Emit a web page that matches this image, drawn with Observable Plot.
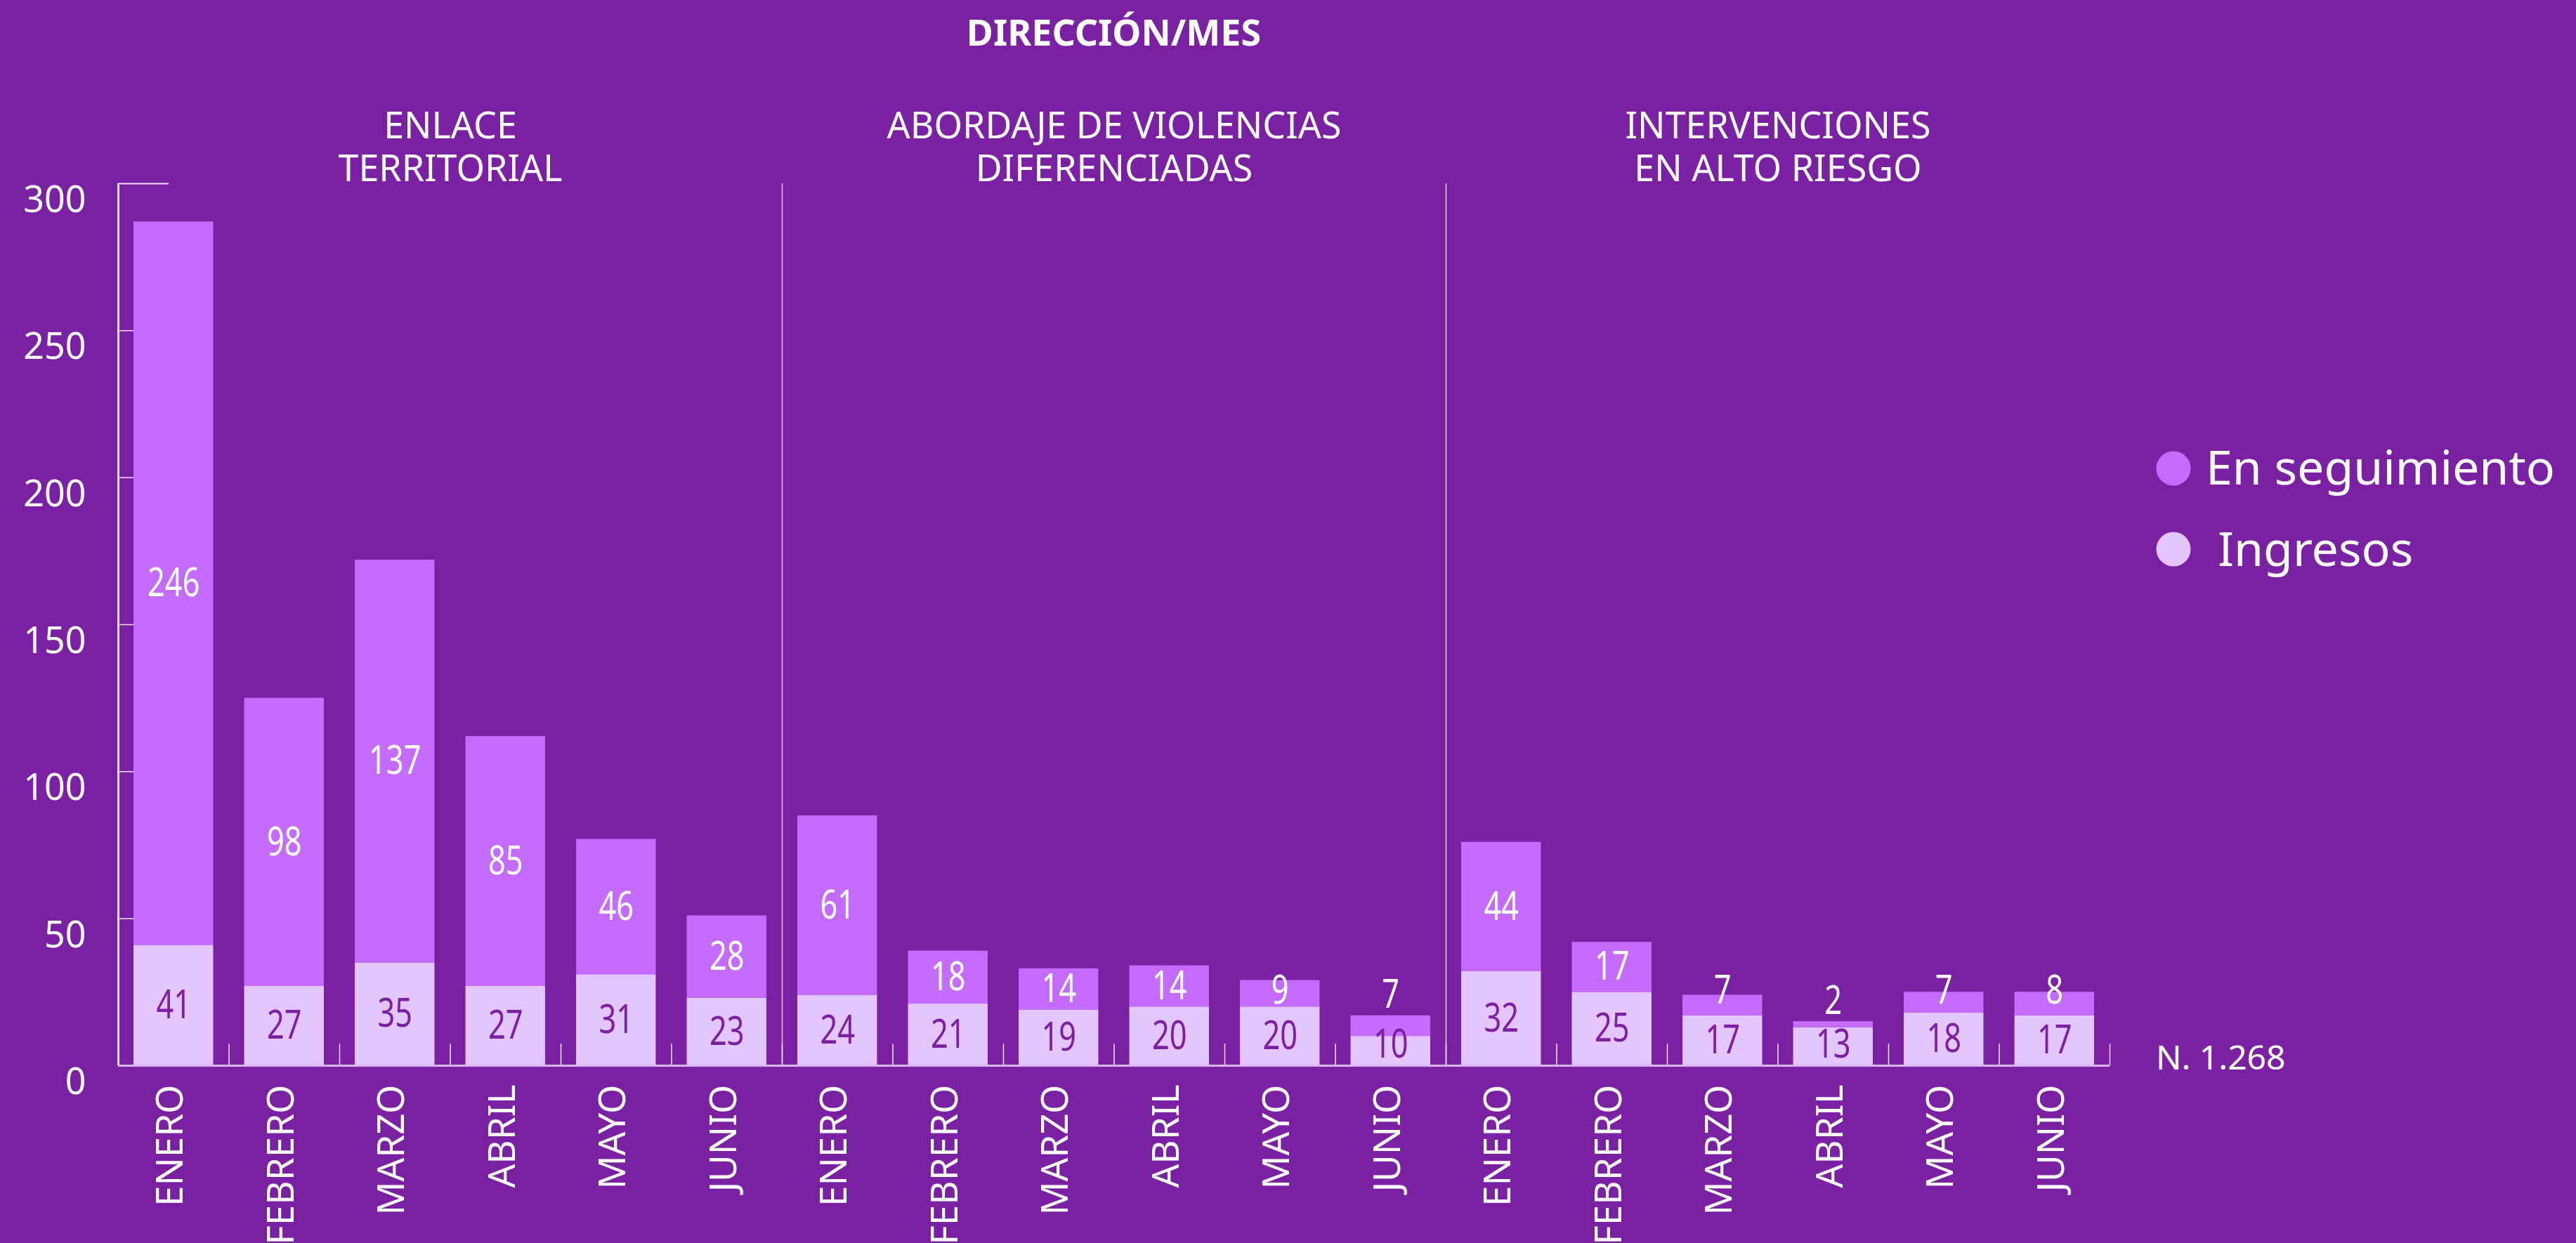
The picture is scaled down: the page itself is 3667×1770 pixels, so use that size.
<!DOCTYPE html>
<html>
<head>
<meta charset="utf-8">
<script src="https://cdn.jsdelivr.net/npm/d3@7"></script>
<script src="https://cdn.jsdelivr.net/npm/@observablehq/plot@0.6"></script>
<style>
  html, body { margin: 0; padding: 0; background: #7a20a2; }
  #wrap { position: relative; width: 3667px; height: 1770px; overflow: hidden; background: #7a20a2; }
  #wrap svg { position: absolute; left: 0; top: 0; }
</style>
</head>
<body>
<div id="wrap"></div>
<script>
// ---- Data ----
const groups = ["ENLACE\nTERRITORIAL", "ABORDAJE DE VIOLENCIAS\nDIFERENCIADAS", "INTERVENCIONES\nEN ALTO RIESGO"];
const months = ["ENERO", "FEBRERO", "MARZO", "ABRIL", "MAYO", "JUNIO"];
const series = ["Ingresos", "En seguimiento"];
const ingresosEnlace = [41, 27, 35, 27, 31, 23];
const seguimientoEnlace = [246, 98, 137, 85, 46, 28];
const ingresosAbordaje = [24, 21, 19, 20, 20, 10];
const seguimientoAbordaje = [61, 18, 14, 14, 9, 7];
const ingresosAltoRiesgo = [32, 25, 17, 13, 18, 17];
const seguimientoAltoRiesgo = [44, 17, 7, 2, 7, 8];
const yTicks = [0, 50, 100, 150, 200, 250, 300];
const titleText = "DIRECCIÓN/MES";
const legendLabels = ["En seguimiento", "Ingresos"];
const totalText = "N. 1.268";

// ---- Build table ----
const ingresosByGroup = [ingresosEnlace, ingresosAbordaje, ingresosAltoRiesgo];
const seguimientoByGroup = [seguimientoEnlace, seguimientoAbordaje, seguimientoAltoRiesgo];
const rows = [];
groups.forEach((g, gi) => {
  months.forEach((m, mi) => {
    rows.push({group: g, month: m, series: series[0], value: ingresosByGroup[gi][mi], base: 0});
  });
});
groups.forEach((g, gi) => {
  months.forEach((m, mi) => {
    rows.push({group: g, month: m, series: series[1], value: seguimientoByGroup[gi][mi], base: ingresosByGroup[gi][mi]});
  });
});
const ingRows = rows.filter(d => d.series === series[0]);
const segRows = rows.filter(d => d.series === series[1]);

// ---- Layout / style ----
const W = 3667, H = 1770;
const mL = 168, mR = 664, mT = 261, mB = 253;
const frameH = H - mT - mB;
const facetW = (W - mL - mR) / groups.length;
const step = facetW / months.length;
const bg = "#7a20a2", segColor = "#c36cff", ingColor = "#e4c6ff", pale = "#d9b6f5";
const baseFont = "'Noto Sans', sans-serif";

const chart = Plot.plot({
  width: W, height: H,
  marginLeft: mL, marginRight: mR, marginTop: mT, marginBottom: mB,
  style: {background: "transparent", color: "#fff", fontFamily: baseFont},
  fx: {domain: groups, padding: 0, label: null},
  x: {domain: months, paddingInner: 0.28, paddingOuter: 0.14, round: false, label: null},
  y: {domain: [0, 300], label: null},
  color: {domain: series, range: [ingColor, segColor]},
  marks: [
    // y axis ticks (inward)
    Plot.ruleY(yTicks.slice(1, -1), {y: d => d, fx: () => groups[0], insetRight: facetW - 23, stroke: "#f0e4fa", strokeWidth: 1.5}),
    Plot.ruleY([yTicks[0], yTicks[yTicks.length - 1]], {y: d => d, fx: () => groups[0], insetRight: facetW - 72, stroke: "#f0e4fa", strokeWidth: 2}),
    // y axis line
    Plot.ruleX([months[0]], {x: d => d, fx: () => groups[0], dx: -step / 2, stroke: "#f3e8fb", strokeWidth: 3}),
    // group separators
    Plot.ruleX(groups.slice(1), {x: () => months[0], fx: d => d, dx: -step / 2, stroke: "#e6d0f6", strokeWidth: 1.5}),
    // small boundary ticks
    Plot.ruleX(months, {x: d => d, dx: -step / 2, insetTop: frameH - 31, stroke: "#f0e4fa", strokeWidth: 1.5}),
    Plot.ruleX([months[months.length - 1]], {x: d => d, fx: () => groups[groups.length - 1], dx: step / 2, insetTop: frameH - 31, stroke: "#f0e4fa", strokeWidth: 1.5}),
    // bars
    Plot.barY(rows, {fx: "group", x: "month", y: "value", fill: "series"}),
    // baseline
    Plot.ruleY([0], {stroke: pale, strokeWidth: 3}),
    // labels
    Plot.text(ingRows, {fx: "group", x: "month", y: d => Math.max(d.value / 2, 7), text: d => String(d.value),
      fill: bg, fontSize: 57, className: "narrow-label"}),
    Plot.text(segRows, {fx: "group", x: "month",
      y: d => Math.max(d.base + d.value / 2, Math.min(d.base + d.value + 7, 25.5)),
      text: d => String(d.value), fill: "#fff", fontSize: 57, className: "narrow-label"}),
    // axes
    Plot.axisY({ticks: yTicks, anchor: "left", tickSize: 0, tickPadding: 46, dy: 24, fontSize: 52, fill: "#fff", label: null}),
    Plot.axisX({anchor: "bottom", tickSize: 0, tickPadding: 27, rotate: -90, textAnchor: "end", lineAnchor: "middle", dx: -4, fontSize: 53, fill: "#fff", label: null}),
    Plot.axisFx({anchor: "top", tickSize: 0, tickPadding: 4, fontSize: 52, lineHeight: 1.17, fill: "#fff", label: null})
  ]
});

const wrap = document.getElementById("wrap");
wrap.appendChild(chart);

// condense the bar value labels (the reference uses a narrow typeface)
chart.querySelectorAll(".narrow-label text").forEach(t => {
  const len = t.getComputedTextLength();
  if (len > 0) {
    t.setAttribute("textLength", (len * 0.76).toFixed(1));
    t.setAttribute("lengthAdjust", "spacingAndGlyphs");
  }
});

// overlay: title, legend, total
const ns = "http://www.w3.org/2000/svg";
const ov = document.createElementNS(ns, "svg");
ov.setAttribute("width", W);
ov.setAttribute("height", H);
ov.setAttribute("font-family", baseFont);
function addText(x, y, str, size, weight, anchor) {
  const t = document.createElementNS(ns, "text");
  t.setAttribute("x", x); t.setAttribute("y", y);
  t.setAttribute("font-size", size);
  t.setAttribute("fill", "#fff");
  if (weight) t.setAttribute("font-weight", weight);
  if (anchor) t.setAttribute("text-anchor", anchor);
  t.textContent = str;
  ov.appendChild(t);
}
function addCircle(cx, cy, r, fill) {
  const c = document.createElementNS(ns, "circle");
  c.setAttribute("cx", cx); c.setAttribute("cy", cy); c.setAttribute("r", r);
  c.setAttribute("fill", fill);
  ov.appendChild(c);
}
addText(mL + (W - mL - mR) / 2, 65, titleText, 52, 700, "middle");
addCircle(3094, 667, 24.5, segColor);
addText(3140, 690, legendLabels[0], 68);
addCircle(3094, 782, 24.5, ingColor);
addText(3157, 806, legendLabels[1], 68);
addText(3069, 1523, totalText, 48);
wrap.appendChild(ov);
</script>
</body>
</html>
